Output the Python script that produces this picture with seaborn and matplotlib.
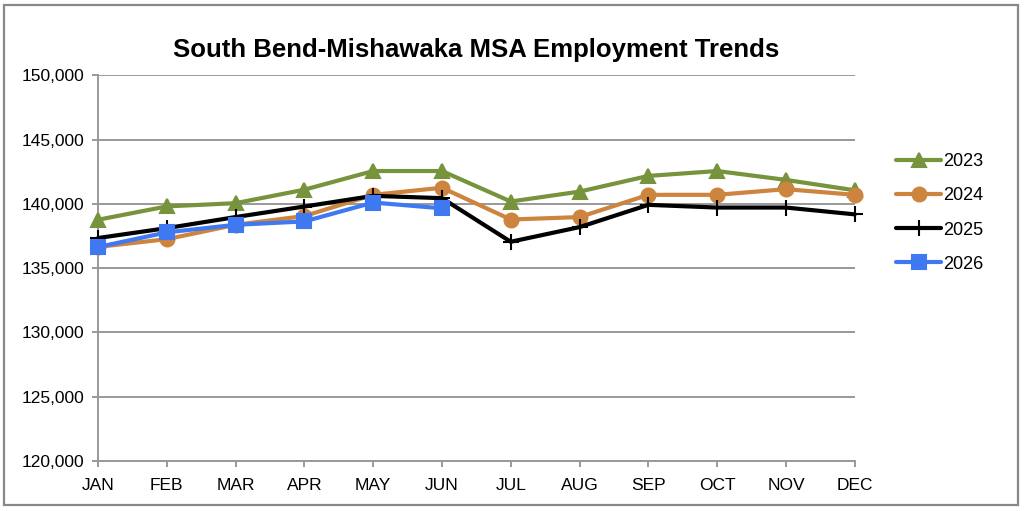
import matplotlib
matplotlib.use("Agg")
import matplotlib.pyplot as plt
import matplotlib.ticker as mticker
from matplotlib.patches import Rectangle
import pandas as pd
import seaborn as sns

months = ["JAN", "FEB", "MAR", "APR", "MAY", "JUN",
          "JUL", "AUG", "SEP", "OCT", "NOV", "DEC"]

emp_2023 = [138760, 139800, 140050, 141100, 142550, 142550,
            140180, 140950, 142170, 142550, 141860, 141050]
emp_2024 = [136650, 137250, 138370, 139050, 140700, 141250,
            138780, 138970, 140700, 140700, 141140, 140700]
emp_2025 = [137340, 138110, 138970, 139790, 140620, 140440,
            137050, 138190, 139920, 139710, 139710, 139180]
emp_2026 = [136640, 137780, 138370, 138630, 140100, 139650]

series = [
    ("2023", emp_2023, "#77933C", "^"),
    ("2024", emp_2024, "#CC843F", "o"),
    ("2025", emp_2025, "#000000", "+"),
    ("2026", emp_2026, "#3F79F2", "s"),
]

sns.set_style("white")
plt.rcParams["font.family"] = ["Liberation Sans", "DejaVu Sans"]
plt.rcParams["text.color"] = "black"

fig = plt.figure(figsize=(10.24, 5.11), dpi=100)
ax = fig.add_axes([0.0957, 0.0978, 0.739, 0.755])

for label, vals, color, marker in series:
    df = pd.DataFrame({"x": range(len(vals)), "y": vals})
    ms = 12 if marker == "+" else 10
    sns.lineplot(data=df, x="x", y="y", ax=ax, color=color, marker=marker,
                 markersize=ms, markeredgecolor=color, markeredgewidth=1.5,
                 linewidth=3.0, label=label, clip_on=False, zorder=3)

ax.set_xlim(0, 11)
ax.set_ylim(120000, 150000)
ax.set_xticks(range(12))
ax.set_xticklabels(months)
ax.yaxis.set_major_locator(mticker.MultipleLocator(5000))
ax.yaxis.set_major_formatter(mticker.FuncFormatter(lambda v, p: f"{int(v):,}"))
ax.set_xlabel("")
ax.set_ylabel("")

ax.grid(axis="y", color="#999999", linewidth=1.4)
ax.grid(axis="x", visible=False)
ax.set_axisbelow(True)
for s in ["top", "right"]:
    ax.spines[s].set_visible(False)
for s in ["left", "bottom"]:
    ax.spines[s].set_color("#999999")
    ax.spines[s].set_linewidth(1.4)
ax.tick_params(axis="both", direction="out", length=4, width=1.4,
               color="#999999", labelsize=12.5, labelcolor="black",
               left=True, bottom=True)
ax.tick_params(axis="y", pad=6)
ax.tick_params(axis="x", pad=8)

ax.set_title("South Bend-Mishawaka MSA Employment Trends", fontsize=18.5,
             fontweight="bold", color="black", pad=13, x=0.5)

leg = ax.legend(loc="center left", bbox_to_anchor=(1.045, 0.643), frameon=False,
                fontsize=13, handlelength=2.5, handletextpad=0.1,
                labelspacing=0.95, borderaxespad=0)

fig.add_artist(Rectangle((0.004, 0.012), 0.99, 0.978, transform=fig.transFigure,
                         fill=False, edgecolor="#888888", linewidth=1.6))

fig.savefig("out.png", dpi=100)
plt.close(fig)
